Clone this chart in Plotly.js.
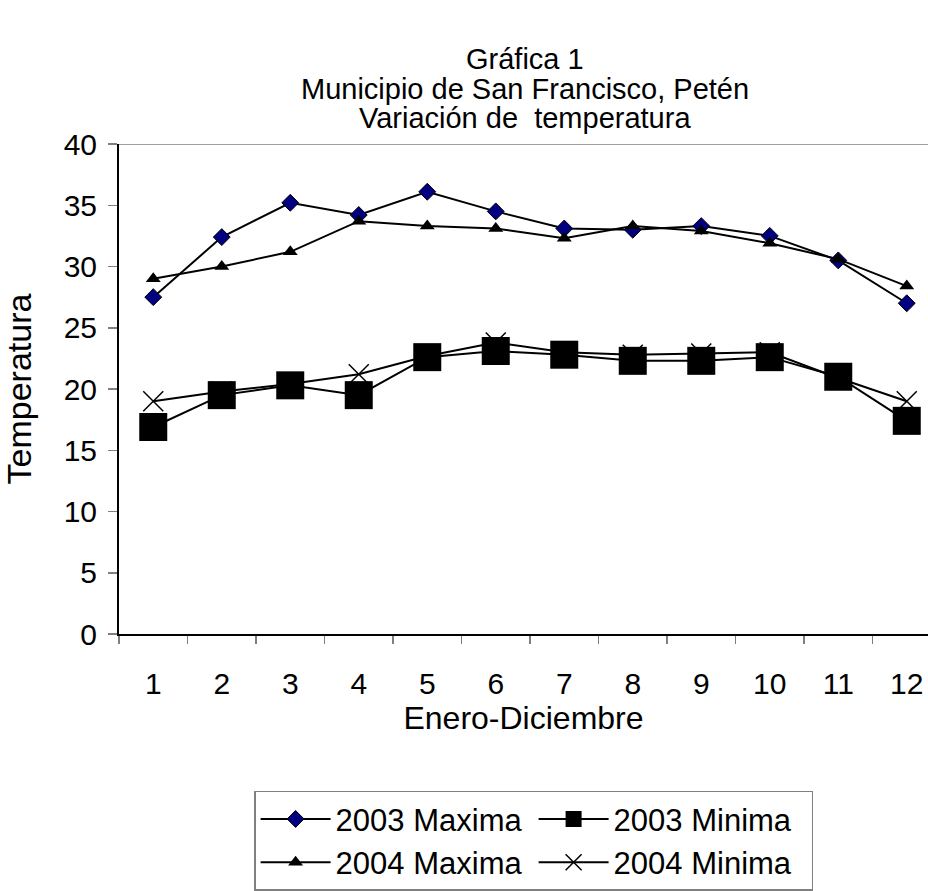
<!DOCTYPE html>
<html>
<head>
<meta charset="utf-8">
<script src="https://cdn.plot.ly/plotly-3.0.1.min.js"></script>
<style>html,body{margin:0;padding:0;background:#fff;}#chart{width:928px;height:891px;}</style>
</head>
<body>
<div id="chart"></div>
<script>
var months = ["1","2","3","4","5","6","7","8","9","10","11","12"];
var max2003 = [27.5, 32.4, 35.2, 34.2, 36.1, 34.5, 33.1, 33.0, 33.3, 32.5, 30.5, 27.0];
var min2003 = [16.9, 19.5, 20.3, 19.5, 22.6, 23.1, 22.8, 22.3, 22.3, 22.6, 21.0, 17.4];
var max2004 = [29.0, 30.0, 31.2, 33.7, 33.3, 33.1, 32.3, 33.3, 32.9, 31.9, 30.6, 28.4];
var min2004 = [19.0, 19.8, 20.4, 21.2, 22.7, 23.8, 23.0, 22.8, 22.9, 23.0, 20.9, 19.0];
var yTicks = [0, 5, 10, 15, 20, 25, 30, 35, 40];
var titleLines = ["Gráfica 1", "Municipio de San Francisco, Petén", "Variación de  temperatura"];

var font = "Liberation Sans, Arial, sans-serif";
var lineStyle = {color: "#000000", width: 2};

var traces = [
  {x: months, y: max2003, name: "2003 Maxima", type: "scatter", mode: "lines+markers",
   line: lineStyle, marker: {symbol: "diamond", size: 13, color: "#000080", line: {color: "#000000", width: 1}}},
  {x: months, y: min2003, name: "2003 Minima", type: "scatter", mode: "lines+markers",
   line: lineStyle, marker: {symbol: "square", size: 28, color: "#000000"}},
  {x: months, y: max2004, name: "2004 Maxima", type: "scatter", mode: "lines+markers",
   line: lineStyle, marker: {symbol: "triangle-up", size: 13, color: "#000000"}},
  {x: months, y: min2004, name: "2004 Minima", type: "scatter", mode: "lines+markers",
   line: lineStyle, marker: {symbol: "x-thin-open", size: 20, color: "#000000", line: {color: "#000000", width: 1.5}}}
];

var titleY = [1.1728, 1.1118, 1.0528];
var annotations = titleLines.map(function (t, i) {
  return {text: t, xref: "paper", x: 0.502, xanchor: "center", yref: "paper", y: titleY[i], yanchor: "middle",
          showarrow: false, font: {family: font, size: 29, color: "#000000"}};
});

var layout = {
  width: 928, height: 891,
  margin: {l: 119, r: 0, t: 144, b: 255, pad: 0},
  paper_bgcolor: "#ffffff", plot_bgcolor: "#ffffff",
  font: {family: font, color: "#000000", size: 30},
  annotations: annotations,
  showlegend: true,
  legend: {orientation: "h", x: 0.167, xanchor: "left", y: -0.32, yanchor: "top",
           bordercolor: "#808080", borderwidth: 1.5, bgcolor: "#ffffff",
           font: {family: font, size: 31, color: "#000000"}, itemwidth: 70,
           entrywidthmode: "pixels", entrywidth: 193, traceorder: "normal", tracegroupgap: 0},
  xaxis: {type: "category", range: [-0.5, 11.31], tickson: "boundaries", ticks: "outside",
          ticklen: 8, tickcolor: "#808080", tickwidth: 1.5, ticklabelstandoff: 22,
          showline: true, linecolor: "#000000", linewidth: 2, showgrid: false, zeroline: false,
          tickfont: {family: font, size: 30, color: "#000000"},
          title: {text: "Enero-Diciembre", font: {family: font, size: 32, color: "#000000"}, standoff: 2},
          fixedrange: true},
  yaxis: {range: [0, 40], tickmode: "array", tickvals: yTicks, ticktext: yTicks.map(String),
          ticks: "outside", ticklen: 9, tickcolor: "#808080", tickwidth: 1.5, ticklabelstandoff: 5,
          showline: true, linecolor: "#000000", linewidth: 2, showgrid: false, zeroline: false,
          tickfont: {family: font, size: 30, color: "#000000"},
          title: {text: "Temperatura", font: {family: font, size: 34, color: "#000000"}, standoff: 22},
          fixedrange: true},
  shapes: [{type: "line", xref: "paper", x0: 0, x1: 1, yref: "y", y0: 40, y1: 40,
            line: {color: "#808080", width: 1.5}}]
};

Plotly.newPlot("chart", traces, layout, {displayModeBar: false, staticPlot: true});
</script>
</body>
</html>
